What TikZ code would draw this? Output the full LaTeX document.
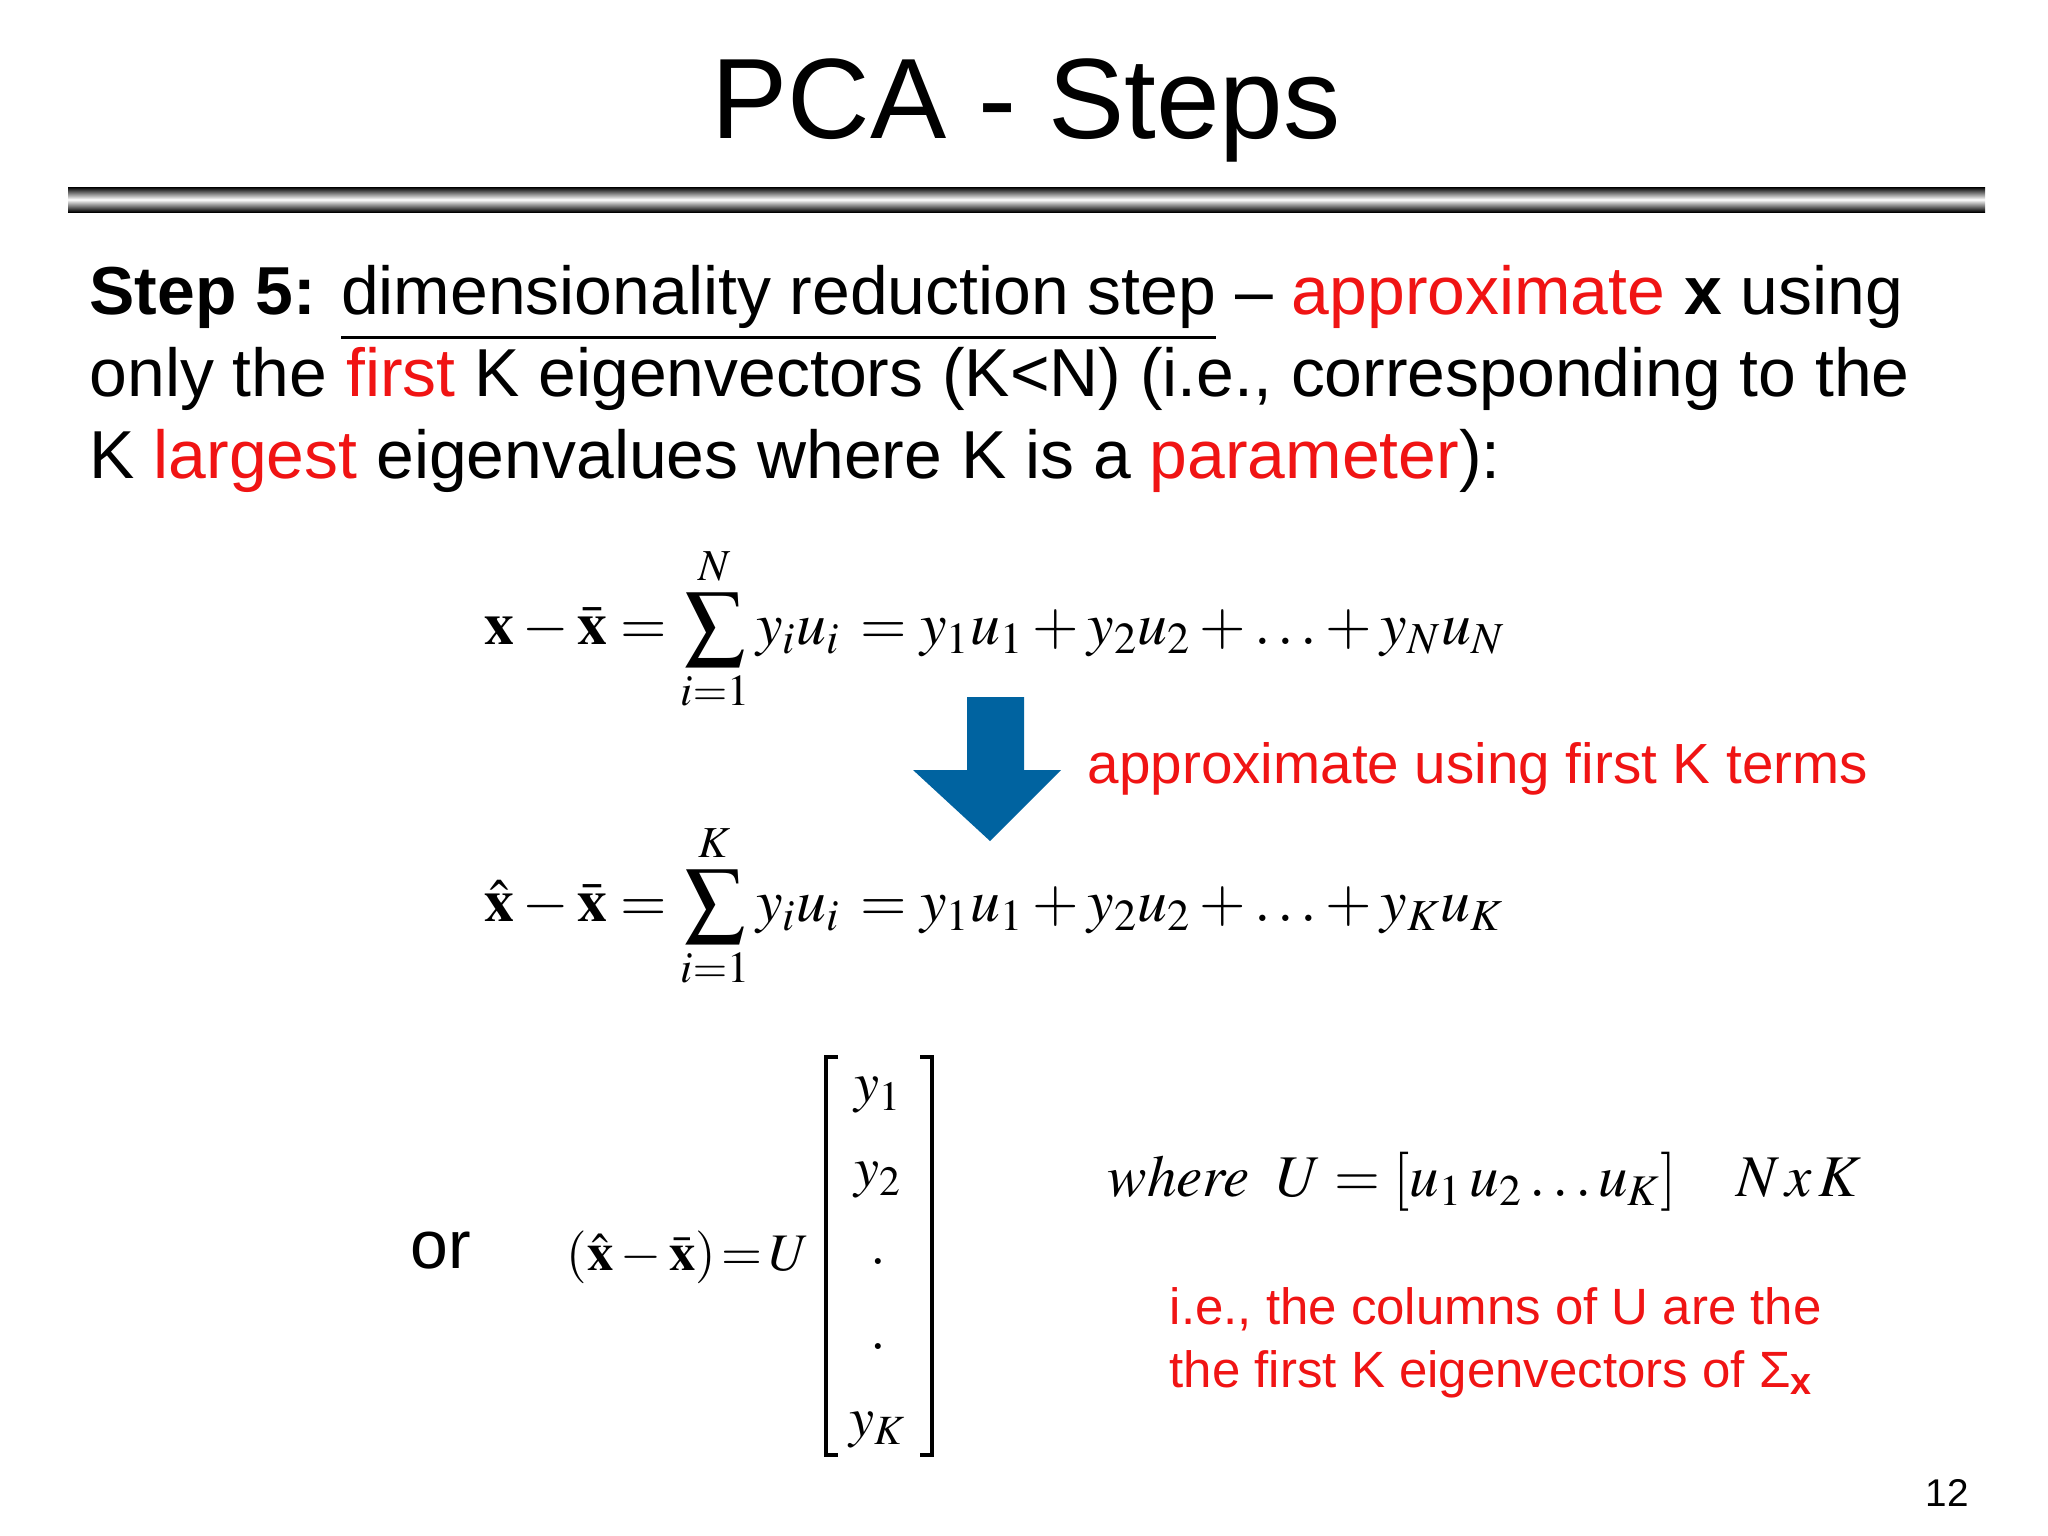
\documentclass[tikz,border=0pt]{standalone}
\usepackage{mathptmx}
\usepackage[no-math]{fontspec}
\setmainfont{Liberation Sans}
\definecolor{pred}{RGB}{240,20,20}
\definecolor{pblue}{RGB}{0,99,160}
\begin{document}
\begin{tikzpicture}[x=0.01cm,y=-0.01cm,
  body/.style={anchor=base west,inner sep=0,font=\fontsize{19.3}{22}\selectfont},
  eq/.style={anchor=west,inner sep=0,font=\fontsize{17}{20}\selectfont},
  ment/.style={inner sep=0,font=\fontsize{16}{20}\selectfont},
  redtxt/.style={anchor=base west,inner sep=0,text=pred,font=\fontsize{14.5}{18}\selectfont}]
\useasboundingbox (0,0) rectangle (2048,1536);
\fill[white] (0,0) rectangle (2048,1536);
\node[inner sep=0,font=\fontsize{32.5}{40}\selectfont] (title) at (1026,110) {PCA - Steps};
\shade[top color=black,bottom color=black,middle color=white] (68,187) rectangle (1985,212);
\node[body] (l1) at (89,314) {\textbf{Step 5:} \underline{dimensionality reduction step} -- \textcolor{pred}{approximate} \textbf{x} using};
\node[body] (l2) at (89,396) {only the \textcolor{pred}{first} K eigenvectors (K<N) (i.e., corresponding to the};
\node[body] (l3) at (89,478) {K \textcolor{pred}{largest} eigenvalues where K is a \textcolor{pred}{parameter}):};
\node[eq] (e1) at (484,629) {$\displaystyle \mathbf{x}-\bar{\mathbf{x}}=\sum_{i=1}^{N} y_i u_i \,=y_1u_1+y_2u_2+\ldots+y_Nu_N$};
\fill[pblue] (967,697) -- (1024,697) -- (1024,770) -- (1061,770) -- (990,841) -- (913,770) -- (967,770) -- cycle;
\node[redtxt,font=\fontsize{16.1}{20}\selectfont] (ap) at (1087,783) {approximate using first K terms};
\node[eq] (e2) at (484,906) {$\displaystyle \hat{\mathbf{x}}-\bar{\mathbf{x}}=\sum_{i=1}^{K} y_i u_i \,=y_1u_1+y_2u_2+\ldots+y_Ku_K$};
\node[inner sep=0,font=\fontsize{19.3}{22}\selectfont] (or) at (441,1251) {or};
\node[eq,font=\fontsize{15}{18}\selectfont] (e3) at (566,1257) {$(\hat{\mathbf{x}}-\bar{\mathbf{x}})\!=\!U$};
\draw[line width=1pt] (838,1057) -- (826,1057) -- (826,1455) -- (838,1455);
\draw[line width=1pt] (920,1057) -- (932,1057) -- (932,1455) -- (920,1455);
\node[ment] (m1) at (878,1095) {$y_1$};
\node[ment] (m2) at (878,1180) {$y_2$};
\node[ment] (m3) at (878,1262) {$.$};
\node[ment] (m4) at (878,1347) {$.$};
\node[ment] (m5) at (878,1430) {$y_K$};
\node[eq,font=\fontsize{16.8}{20}\selectfont] (wh) at (1107,1182) {$\mathit{where}\;\; U=[u_1\,u_2\ldots u_K]\quad N\,x\,K$};
\node[redtxt] (r1) at (1169,1324) {i.e., the columns of U are the};
\node[redtxt] (r2) at (1169,1387) {the first K eigenvectors of Σ\textsubscript{\textbf{x}}};
\node[inner sep=0,font=\fontsize{11}{13}\selectfont] (pg) at (1947,1493) {12};
\end{tikzpicture}
\end{document}
